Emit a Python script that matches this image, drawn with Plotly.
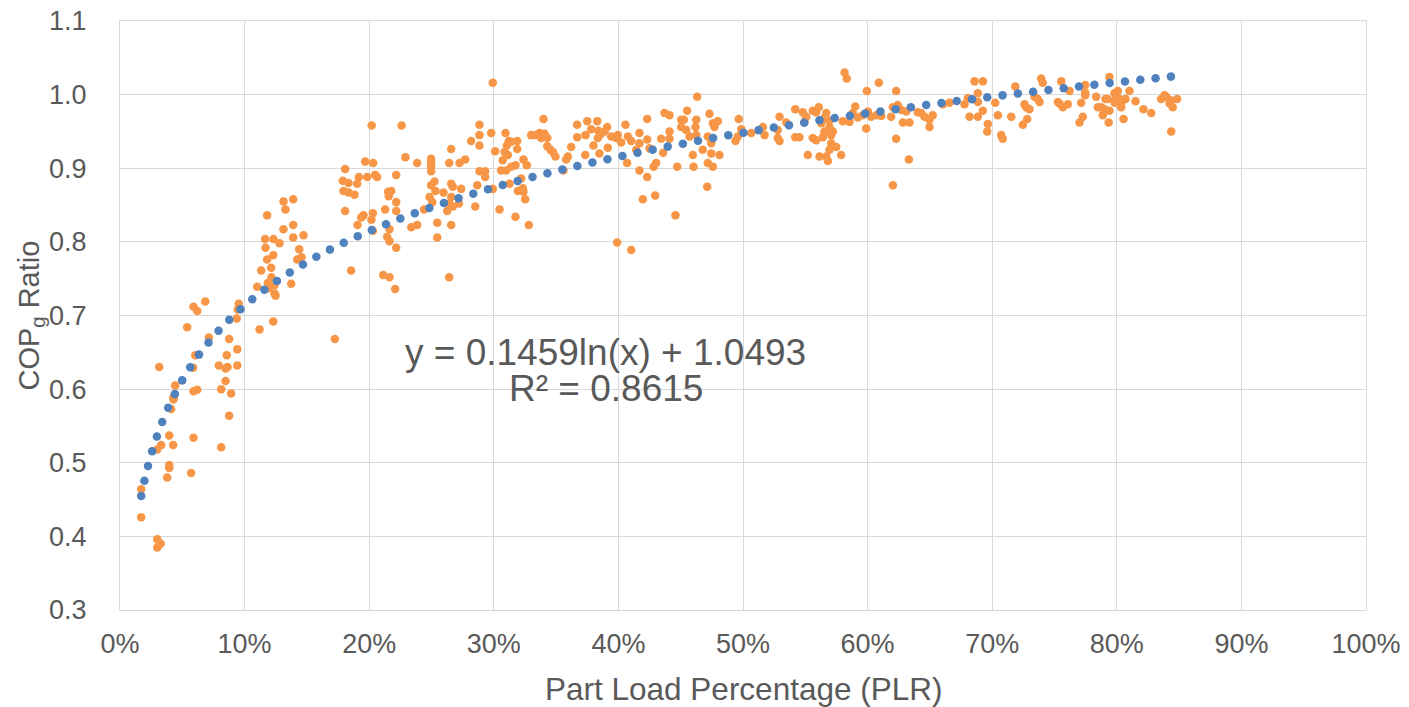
import numpy as np
import plotly.graph_objects as go

# ---- data ----
plr_pct = [
    # low-load region
    13.74, 11.01, 11.86, 12.40, 11.92, 12.40, 12.48, 6.84, 5.90, 6.20, 9.53, 9.45, 9.37, 5.39, 12.30, 11.20,
    7.13, 8.76, 9.41, 6.04, 8.57, 5.87, 7.93, 8.47, 8.63, 9.41, 3.15, 8.47, 4.43, 5.90, 6.20, 8.12, 8.92,
    4.29, 4.29, 4.11, 8.76, 3.95, 5.90, 3.31, 2.99, 4.27, 8.12, 3.95, 3.95, 5.71, 3.79, 1.70, 1.70, 2.99,
    3.27, 2.99,
    # 11-23 %
    18.07, 19.68, 20.32, 17.88, 18.34, 19.04, 19.17, 19.84, 20.48, 20.64, 22.17, 17.94, 18.34, 18.82, 21.52,
    21.77, 21.57, 13.12, 13.90, 13.28, 11.81, 18.07, 22.17, 21.28, 22.17, 19.54, 19.36, 20.29, 20.18, 13.90,
    13.12, 14.73, 13.90, 19.06, 21.63, 20.29, 11.65, 12.32, 12.80, 11.68, 21.44, 21.63, 22.17, 14.38, 12.30,
    14.22, 14.57, 11.81, 12.13, 11.33, 18.55, 21.12, 21.63, 22.08, 12.16, 17.24, 20.20, 22.60,
    # 22-27 %
    22.91, 23.85, 24.97, 24.97, 24.97, 24.97, 26.42, 24.97, 25.24, 25.32, 25.96, 24.84, 25.06, 26.26, 25.46,
    25.46, 26.42, 24.40, 23.38, 23.85,
    # 26-47 %
    29.92, 26.58, 26.58, 26.71, 26.58, 26.44, 26.71, 26.58, 27.20, 27.38, 27.25, 27.71, 28.18, 28.85, 28.85,
    28.85, 29.79, 30.94, 31.21, 31.05, 31.40, 31.88, 31.88, 30.86, 31.13, 30.72, 30.11, 28.85, 29.31, 29.31,
    28.67, 29.92, 30.59, 31.00, 31.40, 31.74, 32.38, 32.65, 32.20, 31.26, 32.33, 32.38, 31.93, 32.52, 28.51,
    30.46, 31.74, 32.81, 33.99, 33.00, 33.35, 33.67, 34.07, 33.80, 34.29, 34.29, 34.55, 34.74, 34.95, 35.81,
    35.59, 35.94, 36.21, 36.69, 36.69, 37.36, 37.50, 37.82, 38.30, 38.00, 38.40, 38.62, 38.35, 38.89, 39.10,
    38.48, 39.15, 37.34, 39.42, 39.95, 39.82, 40.22, 40.57, 40.76, 41.03, 40.70, 41.69, 41.69, 41.69, 41.43,
    42.31, 42.31, 42.31, 42.50, 41.96, 42.95, 42.82, 43.03, 43.43, 43.59, 44.10, 44.10, 43.70, 44.10, 44.58,
    44.72, 45.04, 45.25, 45.52, 45.04, 45.44, 45.71, 46.25, 46.19, 46.32, 45.97, 46.03, 46.25, 39.90, 41.03,
    # 46-63 %
    47.31, 47.58, 47.98, 47.71, 47.17, 46.77, 47.45, 47.45, 48.11, 47.17, 47.58, 47.13, 49.66, 49.86, 49.58,
    49.40, 50.66, 51.59, 51.73, 52.93, 52.79, 52.79, 52.93, 53.47, 54.19, 54.19, 54.53, 54.80, 55.07, 54.94,
    55.60, 55.87, 56.08, 56.41, 56.28, 56.68, 56.94, 56.94, 56.54, 57.21, 57.08, 56.41, 55.87, 55.60, 55.20,
    56.14, 56.68, 56.81, 56.94, 57.48, 57.88, 57.08, 58.01, 58.55, 58.81, 59.01, 59.21, 59.61, 60.02, 60.29,
    60.69, 61.09, 61.89, 62.03, 62.42, 59.89, 59.94, 60.90, 58.15, 58.33, 62.29, 62.29, 62.03,
    # 62-79 %
    62.70, 63.10, 62.83, 63.36, 63.31, 64.03, 64.30, 64.57, 64.97, 65.23, 64.97, 66.04, 66.57, 67.78, 68.04,
    68.18, 68.58, 69.25, 68.85, 68.85, 68.85, 69.25, 69.65, 69.60, 70.24, 70.45, 70.72, 70.85, 71.53, 71.85,
    72.59, 72.73, 72.99, 72.81, 72.46, 73.40, 73.66, 73.80, 73.93, 74.06, 75.27, 75.40, 75.67, 76.07, 75.54,
    76.21, 77.14, 77.46, 77.46, 77.46, 77.27, 77.01, 78.35, 78.48,
    # 78-85 %
    78.75, 79.09, 79.28, 79.01, 79.41, 78.88, 79.41, 79.35, 79.82, 80.08, 79.95, 80.22, 80.35, 79.82, 80.70,
    81.02, 80.35, 80.54, 81.50, 82.14, 82.76, 83.56, 83.83, 83.97, 84.23, 84.37, 84.49, 84.85, 84.37,
]

cop_ratio = [
    0.743, 0.739, 0.744, 0.741, 0.737, 0.730, 0.727, 0.719, 0.712, 0.706, 0.716, 0.708, 0.696, 0.684, 0.692, 0.681,
    0.670, 0.668, 0.654, 0.646, 0.646, 0.629, 0.632, 0.628, 0.630, 0.632, 0.630, 0.611, 0.605, 0.597, 0.599, 0.600, 0.594,
    0.589, 0.586, 0.573, 0.564, 0.537, 0.534, 0.524, 0.518, 0.524, 0.521, 0.497, 0.493, 0.486, 0.480, 0.464, 0.426, 0.396,
    0.390, 0.385,
    0.899, 0.909, 0.907, 0.883, 0.880, 0.879, 0.888, 0.888, 0.891, 0.888, 0.891, 0.869, 0.867, 0.864, 0.868,
    0.869, 0.862, 0.855, 0.858, 0.844, 0.836, 0.842, 0.854, 0.844, 0.842, 0.836, 0.833, 0.839, 0.830, 0.823,
    0.817, 0.809, 0.806, 0.823, 0.817, 0.815, 0.804, 0.804, 0.798, 0.792, 0.807, 0.801, 0.792, 0.790, 0.782,
    0.776, 0.779, 0.776, 0.765, 0.761, 0.761, 0.755, 0.752, 0.736, 0.752, 0.668, 0.958, 0.958,
    0.915, 0.907, 0.913, 0.907, 0.902, 0.896, 0.907, 0.877, 0.882, 0.869, 0.867, 0.861, 0.854, 0.842, 0.826,
    0.806, 0.752, 0.844, 0.820, 0.823,
    1.016, 0.926, 0.879, 0.875, 0.861, 0.852, 0.848, 0.823, 0.852, 0.872, 0.907, 0.912, 0.937, 0.959, 0.945,
    0.931, 0.948, 0.948, 0.937, 0.931, 0.936, 0.937, 0.926, 0.922, 0.918, 0.911, 0.923, 0.896, 0.896, 0.888,
    0.877, 0.872, 0.897, 0.897, 0.902, 0.904, 0.912, 0.904, 0.886, 0.879, 0.873, 0.868, 0.869, 0.858, 0.848,
    0.844, 0.834, 0.823, 0.967, 0.945, 0.945, 0.948, 0.947, 0.941, 0.941, 0.930, 0.925, 0.922, 0.916, 0.912,
    0.897, 0.916, 0.929, 0.959, 0.942, 0.945, 0.964, 0.953, 0.964, 0.931, 0.951, 0.947, 0.941, 0.950, 0.956,
    0.920, 0.928, 0.918, 0.943, 0.945, 0.941, 0.935, 0.959, 0.943, 0.937, 0.907, 0.948, 0.934, 0.897, 0.925,
    0.967, 0.939, 0.888, 0.927, 0.858, 0.863, 0.902, 0.907, 0.940, 0.921, 0.940, 0.950, 0.975, 0.972, 0.836,
    0.902, 0.966, 0.966, 0.978, 0.956, 0.952, 0.943, 0.966, 0.956, 0.997, 0.918, 0.902, 0.945, 0.799, 0.789,
    0.974, 0.961, 0.964, 0.956, 0.943, 0.925, 0.934, 0.920, 0.918, 0.907, 0.902, 0.875, 0.967, 0.953, 0.943,
    0.937, 0.948, 0.956, 0.945, 0.970, 0.952, 0.941, 0.937, 0.962, 0.980, 0.942, 0.942, 0.976, 0.970, 0.963,
    0.978, 0.976, 0.983, 0.967, 0.961, 0.975, 0.965, 0.956, 0.950, 0.950, 0.945, 0.942, 0.938, 0.941, 0.918,
    0.916, 0.916, 0.910, 0.925, 0.929, 0.918, 0.934, 0.964, 0.963, 0.975, 0.984, 0.969, 0.972, 0.977, 0.970,
    0.972, 0.971, 0.970, 0.983, 0.986, 0.954, 1.005, 1.016, 1.030, 1.022, 1.005, 0.940, 0.877,
    0.979, 0.977, 0.962, 0.962, 0.912, 0.976, 0.975, 0.970, 0.966, 0.972, 0.956, 0.987, 0.989, 0.987, 0.995,
    0.970, 1.018, 1.018, 1.002, 0.990, 0.970, 0.978, 0.960, 0.950, 0.989, 0.972, 0.945, 0.940, 0.970, 1.011,
    0.987, 0.983, 0.980, 0.967, 0.959, 0.997, 0.994, 0.990, 1.022, 1.016, 0.990, 0.988, 0.983, 0.987, 1.018,
    1.005, 0.989, 1.013, 1.003, 0.999, 0.970, 0.962, 0.997, 0.983,
    0.983, 0.994, 0.994, 0.980, 0.978, 0.972, 1.024, 0.962, 1.002, 1.005, 0.997, 0.994, 0.988, 0.989, 0.994,
    1.005, 0.983, 0.967, 0.991, 0.980, 0.975, 0.994, 0.999, 0.997, 0.988, 0.992, 0.983, 0.994, 0.950,
]

# Logarithmic trendline coefficients, as printed on the chart
trend_a = 0.1459
trend_b = 1.0493
trend_label = "y = 0.1459ln(x) + 1.0493"
r2_label = "R² = 0.8615"

x_ticks = [0, 0.1, 0.2, 0.3, 0.4, 0.5, 0.6, 0.7, 0.8, 0.9, 1.0]
y_ticks = [0.3, 0.4, 0.5, 0.6, 0.7, 0.8, 0.9, 1.0, 1.1]

# ---- layout geometry (page body has an 8px margin) ----
W, H = 1401, 699
ML, MR, MT, MB = 112, 43, 13, 97
PW, PH = W - ML - MR, H - MT - MB
XR = (0.0, 1.0)
YR = (0.3, 1.1)

plr = np.array(plr_pct) / 100.0
cop = np.array(cop_ratio)

# Trendline rendered as round dots evenly spaced along the curve (like a dotted line)
xs = np.linspace(plr.min(), plr.max(), 20000)
ys = trend_a * np.log(xs) + trend_b
px = xs / (XR[1] - XR[0]) * PW
py = (ys - YR[0]) / (YR[1] - YR[0]) * PH
seg = np.hypot(np.diff(px), np.diff(py))
s = np.concatenate([[0], np.cumsum(seg)])
spacing = 15.4
targets = np.arange(0, s[-1] + 0.01, spacing)
idx = np.searchsorted(s, targets).clip(0, len(xs) - 1)
tx, ty = xs[idx], ys[idx]

ORANGE = "#F79646"
BLUE = "#4F81BD"
GRID = "#D9D9D9"
TXT = "#595959"
FONT = "Liberation Sans, Arial, sans-serif"

fig = go.Figure()
fig.add_trace(go.Scatter(x=plr, y=cop, mode="markers",
                         marker=dict(color=ORANGE, size=8.5, line=dict(width=0)),
                         showlegend=False, hoverinfo="x+y"))
fig.add_trace(go.Scatter(x=tx, y=ty, mode="markers",
                         marker=dict(color=BLUE, size=8.5, line=dict(width=0)),
                         showlegend=False, hoverinfo="skip"))

fig.update_layout(
    width=W, height=H,
    margin=dict(l=ML, r=MR, t=MT, b=MB, autoexpand=False),
    paper_bgcolor="white", plot_bgcolor="white",
    font=dict(family=FONT, color=TXT),
    xaxis=dict(range=list(XR), tickvals=x_ticks, tickformat=".0%",
               automargin=False, ticklabeloverflow="allow",
               showgrid=True, gridcolor=GRID, gridwidth=1,
               showline=True, linecolor=GRID, linewidth=1, mirror=True,
               zeroline=False, ticks="", ticklabelstandoff=10,
               tickfont=dict(size=27, color=TXT, family=FONT)),
    yaxis=dict(range=list(YR), tickvals=y_ticks, tickformat=".1f",
               automargin=False, ticklabeloverflow="allow",
               showgrid=True, gridcolor=GRID, gridwidth=1,
               showline=True, linecolor=GRID, linewidth=1, mirror=True,
               zeroline=False, ticks="", ticklabelstandoff=27,
               tickfont=dict(size=27, color=TXT, family=FONT)),
    annotations=[
        dict(text=trend_label, x=0.3897, y=0.650, xref="x", yref="y",
             showarrow=False, xanchor="center", yanchor="middle",
             font=dict(size=37, color=TXT, family=FONT)),
        dict(text=r2_label, x=0.3897, y=0.601, xref="x", yref="y",
             showarrow=False, xanchor="center", yanchor="middle",
             font=dict(size=37, color=TXT, family=FONT)),
        dict(text="Part Load Percentage (PLR)", x=0.5, y=-0.134,
             xref="paper", yref="paper", showarrow=False,
             xanchor="center", yanchor="middle",
             font=dict(size=31.5, color=TXT, family=FONT)),
        dict(text="COP<sub>g</sub> Ratio", x=-0.0722, y=0.5, textangle=-90,
             xref="paper", yref="paper", showarrow=False,
             xanchor="center", yanchor="middle",
             font=dict(size=29, color=TXT, family=FONT)),
    ],
)

fig.write_html("out.html")
